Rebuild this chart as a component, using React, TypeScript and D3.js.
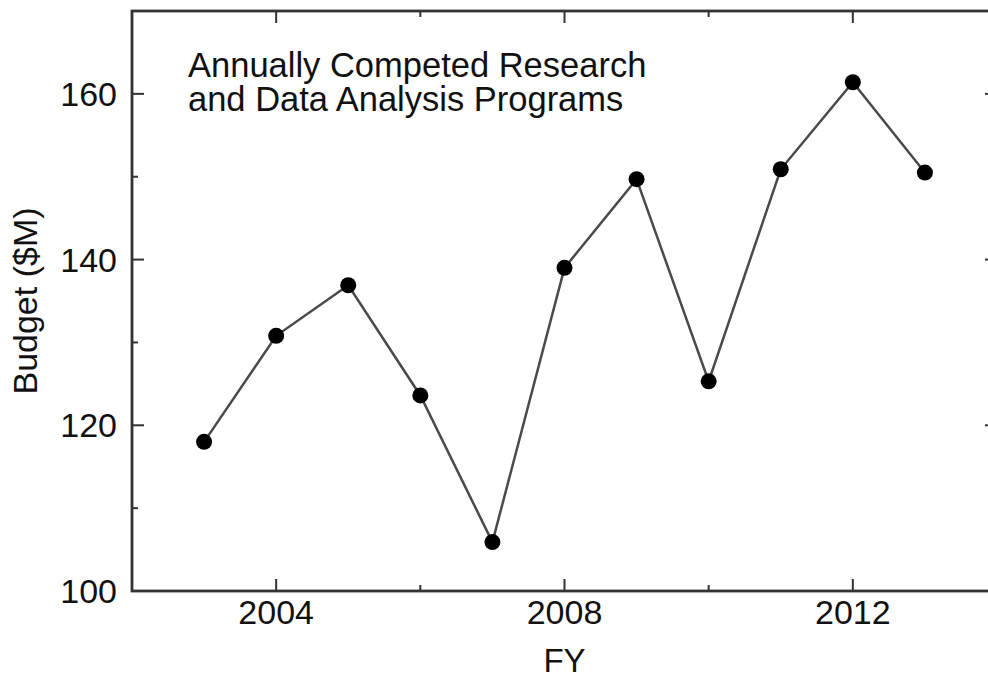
import React from "react";
import * as d3 from "d3";

// Annual budget of competed research & data analysis programs
const years = [2003, 2004, 2005, 2006, 2007, 2008, 2009, 2010, 2011, 2012, 2013];
const budget = [118.0, 130.8, 136.9, 123.6, 105.9, 139.0, 149.7, 125.3, 150.9, 161.4, 150.5];

const xMajorTicks = [2004, 2008, 2012];
const xMinorTicks = [2006, 2010];
const yMajorTicks = [100, 120, 140, 160];
const yMinorTicks = [110, 130, 150, 170];

const titleLines = ["Annually Competed Research", "and Data Analysis Programs"];

const W = 988;
const H = 678;
const margin = { left: 132, right: -9, top: 11, bottom: 87 };
const FONT = "'Liberation Sans', Arial, Helvetica, sans-serif";

export default function App() {
  const x = d3
    .scaleLinear()
    .domain([2002, 2014])
    .range([margin.left, W - margin.right]);
  const y = d3
    .scaleLinear()
    .domain([100, 170])
    .range([H - margin.bottom, margin.top]);

  const [x0, x1] = x.range();
  const [yb, yt] = y.range();

  const pts = years.map((yr, i) => [x(yr), y(budget[i])] as [number, number]);
  const path = d3.line()(pts) || "";

  const axisColor = "#333";
  const major = 12;
  const minor = 6;

  return (
    <svg
      width={W}
      height={H}
      style={{ position: "absolute", left: 0, top: 0, background: "#fff" }}
      fontFamily={FONT}
    >
      {/* frame */}
      <rect
        x={x0}
        y={yt}
        width={x1 - x0}
        height={yb - yt}
        fill="none"
        stroke={axisColor}
        strokeWidth={2.8}
      />

      {/* x ticks, inward on bottom and top */}
      {xMajorTicks.map((t) => (
        <g key={"xM" + t} stroke={axisColor} strokeWidth={2}>
          <line x1={x(t)} x2={x(t)} y1={yb} y2={yb - major} />
          <line x1={x(t)} x2={x(t)} y1={yt} y2={yt + major} />
        </g>
      ))}
      {xMinorTicks.map((t) => (
        <g key={"xm" + t} stroke={axisColor} strokeWidth={2}>
          <line x1={x(t)} x2={x(t)} y1={yb} y2={yb - minor} />
          <line x1={x(t)} x2={x(t)} y1={yt} y2={yt + minor} />
        </g>
      ))}

      {/* y ticks, inward on left and right */}
      {yMajorTicks.map((t) => (
        <g key={"yM" + t} stroke={axisColor} strokeWidth={2}>
          <line x1={x0} x2={x0 + major} y1={y(t)} y2={y(t)} />
          <line x1={x1} x2={x1 - major} y1={y(t)} y2={y(t)} />
        </g>
      ))}
      {yMinorTicks.map((t) => (
        <g key={"ym" + t} stroke={axisColor} strokeWidth={2}>
          <line x1={x0} x2={x0 + minor} y1={y(t)} y2={y(t)} />
          <line x1={x1} x2={x1 - minor} y1={y(t)} y2={y(t)} />
        </g>
      ))}

      {/* tick labels */}
      {xMajorTicks.map((t) => (
        <text
          key={"xl" + t}
          x={x(t)}
          y={yb + 33}
          textAnchor="middle"
          fontSize={34}
          fill="#111"
        >
          {t}
        </text>
      ))}
      {yMajorTicks.map((t) => (
        <text
          key={"yl" + t}
          x={x0 - 15}
          y={y(t) + 12}
          textAnchor="end"
          fontSize={34}
          fill="#111"
        >
          {t}
        </text>
      ))}

      {/* axis titles */}
      <text
        x={(x0 + x1) / 2}
        y={672}
        textAnchor="middle"
        fontSize={33}
        fill="#111"
      >
        FY
      </text>
      <text
        transform={`translate(37, ${(yt + yb) / 2}) rotate(-90)`}
        textAnchor="middle"
        fontSize={34}
        fill="#111"
      >
        Budget ($M)
      </text>

      {/* series */}
      <path d={path} fill="none" stroke="#4a4a4a" strokeWidth={2.5} />
      {pts.map(([px, py], i) => (
        <circle key={"p" + i} cx={px} cy={py} r={8} fill="#000" />
      ))}

      {/* in-plot title, two lines */}
      <text x={188} y={77} fontSize={34.5} fill="#111">
        {titleLines.map((s, i) => (
          <tspan key={"t" + i} x={188} dy={i === 0 ? 0 : 34}>
            {s}
          </tspan>
        ))}
      </text>
    </svg>
  );
}
